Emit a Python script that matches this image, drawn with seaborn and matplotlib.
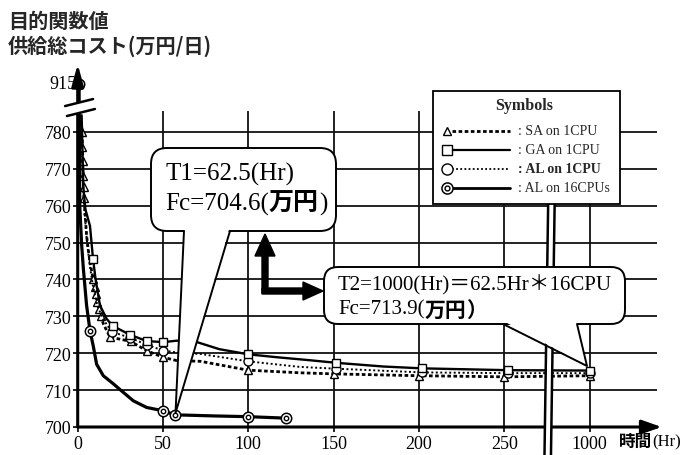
import numpy as np
import pandas as pd
import seaborn as sns
import matplotlib.pyplot as plt
from matplotlib.patches import FancyBboxPatch, Polygon, Rectangle, FancyArrow

# --- data: time (Hr) vs supply cost (万円/日) ---
sa_t = [1.6, 2.6, 2.8, 3.0, 3.2, 3.4, 3.7, 4.3, 5.2, 6.2, 7.5, 9.1, 10.0, 10.8, 11.6, 12.5, 13.5,
        15.0, 19.0, 25.0, 31.0, 40.4, 50.0, 58.0, 72.0, 100.0, 130.0, 150.0, 200.0, 250.0, 1000.0]
sa_cost = [784.5, 780, 776, 772, 768, 765, 762, 758, 752, 748, 744, 740, 738, 736, 734, 732, 730,
           728, 724.3, 723.8, 723.2, 720.7, 718.9, 718.0, 717.8, 715.4, 714.7, 714.4, 713.9, 713.6, 713.9]
sa_marked = [2.6, 2.8, 3.0, 3.2, 3.4, 3.7, 9.1, 10.0, 10.8, 11.6, 12.5, 13.5,
             19.0, 31.0, 40.4, 50.0, 100.0, 150.0, 200.0, 250.0, 1000.0]

ga_t = [2.3, 2.8, 3.3, 4.5, 7.2, 9.0, 10.5, 13.0, 17.0, 20.5, 30.7, 40.4, 50.2, 58.0, 70.0, 83.0,
        100.0, 117.0, 136.0, 151.5, 179.0, 201.6, 252.0, 1000.0]
ga_cost = [784.5, 775, 765, 759, 754.5, 745.5, 740, 733, 729.3, 727.4, 725.0, 723.3, 723.0, 723.4, 723.0, 721.1,
           719.7, 718.9, 718.1, 717.4, 716.4, 715.9, 715.4, 715.3]
ga_marked = [9.0, 20.5, 30.7, 40.4, 50.2, 100.0, 151.5, 201.6, 252.0, 1000.0]

al1_t = [1.4, 2.2, 3.0, 4.0, 5.5, 7.0, 9.0, 11.5, 14.5, 20.0, 30.7, 40.4, 50.2, 58.0, 72.0,
         100.0, 130.0, 151.5, 201.6, 252.0, 1000.0]
al1_cost = [784.5, 778, 768, 758, 750, 744, 738, 733, 729.5, 725.8, 724.2, 722.3, 720.7, 720.2, 719.8,
            717.8, 716.3, 715.8, 714.8, 714.6, 714.6]
al1_marked = [20.0, 30.7, 40.4, 50.2, 100.0, 151.5, 201.6, 252.0, 1000.0]

al16_t = [0.8, 1.2, 2.3, 3.3, 5.2, 7.2, 9.1, 11.1, 15.0, 20.9, 26.7, 32.6, 40.4, 50.0, 57.0, 80.0, 100.0, 122.0]
al16_cost = [915, 760, 749.5, 743, 733, 726.1, 722, 717, 713.9, 711.7, 709.4, 707.1, 705.3, 704.4, 703.3,
             703.0, 702.8, 702.4]
al16_marked = [0.8, 7.2, 50.0, 57.0, 100.0, 122.0]

x_ticks = [0, 50, 100, 150, 200, 250, 1000]
y_ticks = [700, 710, 720, 730, 740, 750, 760, 770, 780]
legend_labels = [": SA on 1CPU", ": GA on 1CPU", ": AL on 1CPU", ": AL on 16CPUs"]


# broken axes: 1000 Hr sits in the "300" slot, 915 sits just above the y break
def x_pos(t):
    t = np.asarray(t, dtype=float)
    return np.where(t >= 1000, 300.0, t)


def y_pos(c):
    c = np.asarray(c, dtype=float)
    return np.where(c >= 900, 793.0, c)


sns.set_theme(style="ticks")
plt.rcParams["font.family"] = ["Liberation Serif", "Noto Sans CJK JP"]
CJK = ["Noto Sans CJK JP", "DejaVu Sans"]

fig = plt.figure(figsize=(6.88, 4.56), dpi=100)
ax = fig.add_axes([77.7 / 688, 1 - 428 / 456, 584 / 688, 363 / 456])
ax.set_xlim(0, 342.3)
ax.set_ylim(700, 798.4)

# grid
ax.hlines(y_ticks[1:], 0, 339.6, color="#111111", lw=1.3, zorder=1)
ax.vlines(x_pos(x_ticks[1:]), 700, 785.6, color="#111111", lw=1.3, zorder=1)


def draw(ts, cs, marked, **kw):
    df = pd.DataFrame({"t": x_pos(ts), "c": y_pos(cs)})
    idx = [i for i, t in enumerate(ts) if t in marked]
    sns.lineplot(data=df, x="t", y="c", ax=ax, estimator=None, sort=False, color="black",
                 markevery=idx, markerfacecolor="white", markeredgecolor="black",
                 clip_on=False, zorder=3, **kw)
    return df, idx


draw(sa_t, sa_cost, sa_marked, linestyle=(0, (1.3, 0.9)), linewidth=2.0,
     marker="^", markersize=5.5, markeredgewidth=1.0)
draw(al1_t, al1_cost, al1_marked, linestyle=(0, (1.0, 1.3)), linewidth=1.4,
     marker="o", markersize=6.5, markeredgewidth=1.0)
draw(ga_t, ga_cost, ga_marked, linestyle="-", linewidth=1.7,
     marker="s", markersize=6.0, markeredgewidth=1.0)
df16, idx16 = draw(al16_t, al16_cost, al16_marked, linestyle="-", linewidth=2.3,
                   marker="o", markersize=7.5, markeredgewidth=1.1)
ax.plot(df16["t"].iloc[idx16], df16["c"].iloc[idx16], ls="none", marker="o", ms=3.2,
        mfc="none", mec="black", mew=1.0, zorder=4, clip_on=False)

ax.set_xlabel("")
ax.set_ylabel("")
ax.set_xticks(x_pos(x_ticks))
ax.set_xticklabels([str(v) for v in x_ticks])
ax.set_yticks(y_ticks)
ax.set_yticklabels([str(v) for v in y_ticks])
ax.tick_params(axis="both", length=3.6, width=1.2, color="black", labelsize=13,
               labelcolor="black", direction="out", left=True, bottom=True)
ax.tick_params(axis="y", pad=1)
ax.tick_params(axis="x", pad=2.5)
ax.text(-0.8, 793, "915", ha="right", va="center", fontsize=13, color="black")
for s in ax.spines.values():
    s.set_visible(False)

# axis arrows
ax.annotate("", xy=(0, 798.4), xytext=(0, 700), annotation_clip=False,
            arrowprops=dict(arrowstyle="-|>,head_length=1.1,head_width=0.3", color="black",
                            lw=2.2, shrinkA=0, shrinkB=0))
ax.annotate("", xy=(342.3, 700), xytext=(0, 700), annotation_clip=False,
            arrowprops=dict(arrowstyle="-|>,head_length=1.0,head_width=0.35", color="black",
                            lw=2.2, shrinkA=0, shrinkB=0))

# axis breaks
yb_lo = [(-6.3, 784.3), (10.1, 786.2)]
yb_hi = [(-7.4, 787.0), (9.0, 788.9)]
ax.add_patch(Polygon(yb_lo + yb_hi[::-1], closed=True, fc="white", ec="none", zorder=6, clip_on=False))
xb_l = [(275.8, 762.0), (273.6, 692.4)]
xb_r = [(279.6, 762.0), (277.4, 692.4)]
ax.add_patch(Polygon(xb_l + xb_r[::-1], closed=True, fc="white", ec="none", zorder=6, clip_on=False))
for seg in (yb_lo, yb_hi, xb_l, xb_r):
    xs, ys = zip(*seg)
    ax.plot(xs, ys, color="black", lw=1.8, zorder=7, clip_on=False)

# --- overlay in pixel coordinates for callouts, legend and titles ---
ov = fig.add_axes([0, 0, 1, 1], zorder=5)
ov.set_xlim(0, 688)
ov.set_ylim(456, 0)
ov.axis("off")
ov.patch.set_alpha(0)


def callout(x0, y0, x1, y1, base, tip, r):
    ov.add_patch(FancyBboxPatch((x0, y0), x1 - x0, y1 - y0, boxstyle=f"round,pad=0,rounding_size={r}",
                                fc="white", ec="black", lw=1.4, zorder=2))
    bl, br = base
    ov.add_patch(Polygon([(bl + 0.5, y1 - 3), tip, (br - 0.5, y1 - 3)], closed=True, fc="white", ec="none", zorder=3))
    ov.plot([bl, tip[0], br], [y1, tip[1], y1], color="black", lw=1.4, zorder=4)


callout(151, 149, 336, 232, (184, 230), (175.5, 414), 16)
callout(324, 268, 625, 325, (503, 577), (587, 367), 14)


def mixed(x, y, parts, size):
    prev = None
    for txt, fam, wt in parts:
        if prev is None:
            prev = ov.text(x, y, txt, fontsize=size, family=fam, weight=wt, ha="left", va="center",
                           color="black", zorder=5)
        else:
            prev = ov.annotate(txt, xy=(1, 0.5), xycoords=prev, fontsize=size, family=fam, weight=wt,
                               ha="left", va="center", color="black", zorder=5)


SERIF = ["Liberation Serif", "Noto Sans CJK JP"]
mixed(165, 174, [("T1=62.5(Hr)", SERIF, "normal")], 18)
mixed(165, 204, [("Fc=704.6(", SERIF, "normal"), ("万円", CJK, "bold"), (")", SERIF, "normal")], 18)
mixed(338, 285, [("T2=1000(Hr)＝62.5Hr＊16CPU", SERIF, "normal")], 15)
mixed(338, 310, [("Fc=713.9(", SERIF, "normal"), ("万円", CJK, "bold"), ("）", CJK, "bold")], 15)

# L-shaped arrow between the callouts
ov.add_patch(FancyArrow(265, 294, 0, -59, width=6, head_width=20, head_length=22,
                        length_includes_head=True, color="black", zorder=4))
ov.add_patch(FancyArrow(262, 292, 61, 0, width=6, head_width=18, head_length=20,
                        length_includes_head=True, color="black", zorder=4))

# legend box
ov.add_patch(Rectangle((433, 92), 187, 113, fc="white", ec="black", lw=1.3, zorder=2))
ov.text(524, 106, "Symbols", ha="center", va="center", fontsize=11.5, weight="bold", zorder=3)
leg_y = [132, 151, 169.5, 188.5]
leg_style = [
    dict(ls=(0, (1.3, 0.9)), lw=2.0, marker="^", ms=6, mew=1.0),
    dict(ls="-", lw=1.6, marker="s", ms=7, mew=1.0),
    dict(ls=(0, (1.0, 1.3)), lw=1.3, marker="o", ms=8, mew=1.0),
    dict(ls="-", lw=2.0, marker="o", ms=8, mew=1.1),
]
for yy, st, lab in zip(leg_y, leg_style, legend_labels):
    st = dict(st)
    ov.plot([452, 510], [yy, yy], color="black", ls=st.pop("ls"), lw=st.pop("lw"), zorder=3)
    ov.plot([447], [yy], ls="none", color="black", mfc="white", mec="black", zorder=4, **st)
    ov.text(518, yy, lab, ha="left", va="center", fontsize=10,
            weight="bold" if lab == ": AL on 1CPU" else "normal", zorder=3)
ov.plot([447], [188.5], ls="none", marker="o", ms=3.5, mfc="none", mec="black", mew=1.0, zorder=5)

# titles
ov.text(8, 21, "目的関数値", fontsize=14.5, weight="bold", family=CJK, ha="left", va="center")
ov.text(8, 46, "供給総コスト(万円/日)", fontsize=14.5, weight="bold", family=CJK, ha="left", va="center")
mixed(619, 442, [("時間", CJK, "bold"), ("(Hr)", SERIF, "normal")], 12)

fig.savefig("out.png", dpi=100)
